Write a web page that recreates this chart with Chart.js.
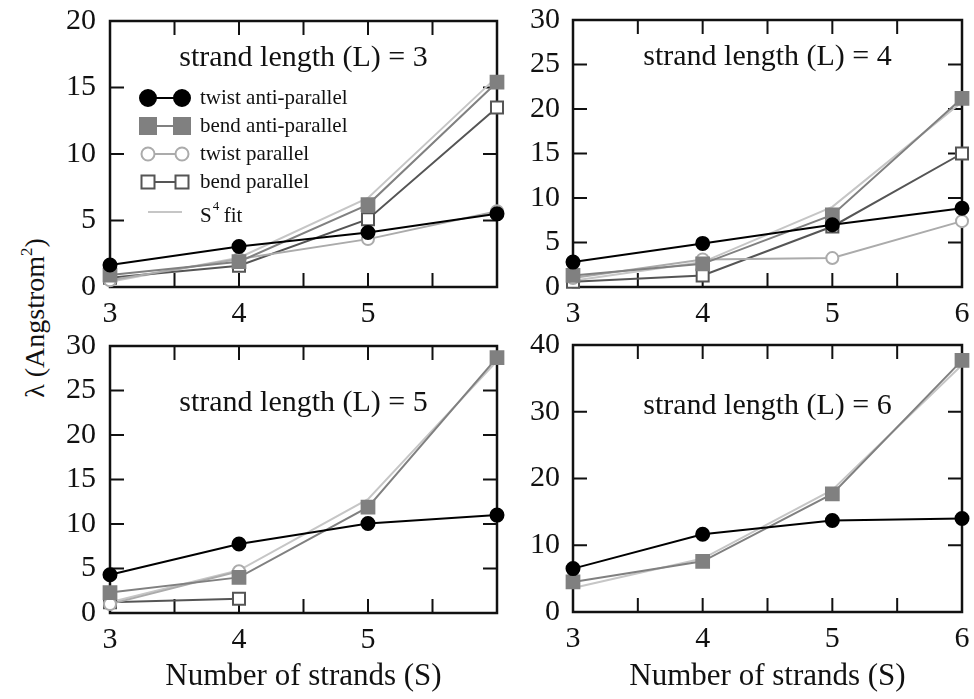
<!DOCTYPE html>
<html><head><meta charset="utf-8">
<script src="https://cdn.jsdelivr.net/npm/chart.js@4.4.1/dist/chart.umd.min.js"></script>
<style>
html,body{margin:0;padding:0;background:#fff;width:974px;height:699px;overflow:hidden;position:relative;}
canvas{position:absolute;}
#ytitle{position:absolute;left:35px;top:318px;transform:translate(-50%,-50%) rotate(-90deg);font:28px "Liberation Serif","Times New Roman",serif;white-space:nowrap;color:#111;}
#ytitle sup{font-size:0.6em;vertical-align:0.7em;line-height:0;}
</style></head><body>
<div id="ytitle">λ (Angstrom<sup>2</sup>)</div>
<canvas id="c1" width="480" height="325" style="left:40px;top:0px"></canvas>
<canvas id="c2" width="464" height="325" style="left:510px;top:0px"></canvas>
<canvas id="c3" width="480" height="374" style="left:40px;top:325px"></canvas>
<canvas id="c4" width="464" height="374" style="left:510px;top:325px"></canvas>
<script>
// ---------- data ----------
const strands = [3, 4, 5, 6];
const xTickMarks = [3, 3.5, 4, 4.5, 5, 5.5, 6];
const seriesNames = ['twist anti-parallel', 'bend anti-parallel', 'twist parallel', 'bend parallel', 'S4 fit'];
const panelTitles = ['strand length (L) = 3', 'strand length (L) = 4', 'strand length (L) = 5', 'strand length (L) = 6'];
const yAxisMax = [20, 30, 30, 40];
const yAxisStep = [5, 5, 5, 10];
const xAxisTitle = 'Number of strands (S)';

// L = 3
const twistAnti_L3 = [1.65, 3.05, 4.1, 5.5];
const bendAnti_L3  = [0.9, 1.9, 6.2, 15.4];
const twistPar_L3  = [0.5, 2.1, 3.6, 5.7];
const bendPar_L3   = [0.7, 1.6, 5.1, 13.5];
const fit_L3       = [0.4, 2.2, 6.7, 15.8];
// L = 4
const twistAnti_L4 = [2.8, 4.9, 7.0, 8.85];
const bendAnti_L4  = [1.3, 2.6, 8.1, 21.2];
const twistPar_L4  = [1.0, 3.1, 3.25, 7.4];
const bendPar_L4   = [0.6, 1.3, 6.8, 15.0];
const fit_L4       = [0.7, 2.8, 9.0, 20.8];
// L = 5
const twistAnti_L5 = [4.3, 7.75, 10.05, 11.0];
const bendAnti_L5  = [2.3, 4.0, 11.9, 28.7];
const twistPar_L5  = [1.0, 4.7, null, null];
const bendPar_L5   = [1.2, 1.6, null, null];
const fit_L5       = [1.2, 4.8, 12.8, 28.3];
// L = 6
const twistAnti_L6 = [6.5, 11.65, 13.7, 14.0];
const bendAnti_L6  = [4.5, 7.6, 17.7, 37.7];
const twistPar_L6  = [null, null, null, null];
const bendPar_L6   = [null, null, null, null];
const fit_L6       = [3.6, 8.0, 18.3, 37.0];

// ---------- styles ----------
const FONT = '"Liberation Serif", "Times New Roman", serif';
const styles = [
  {color: '#000000', fill: '#000000', pointStyle: 'circle', radius: 6.5, width: 2, lr: 8},
  {color: '#808080', fill: '#808080', pointStyle: 'rect', radius: 9, width: 2, lr: 8},
  {color: '#ababab', fill: '#ffffff', pointStyle: 'circle', radius: 6, width: 2, lr: 6.5},
  {color: '#555555', fill: '#ffffff', pointStyle: 'rect', radius: 8.5, width: 2, lr: 6.5},
  {color: '#c6c6c6', fill: '#c6c6c6', pointStyle: false, radius: 0, width: 2}
];

function legendMarker(ctx, st, x, y, r) {
  ctx.beginPath();
  if (st.pointStyle === 'circle') ctx.arc(x, y, r, 0, Math.PI * 2);
  else ctx.rect(x - r, y - r, 2 * r, 2 * r);
  ctx.fillStyle = st.fill; ctx.fill();
  ctx.lineWidth = 2; ctx.strokeStyle = st.color; ctx.stroke();
}

const panelDecor = {
  id: 'panelDecor',
  beforeDatasetsDraw(chart, args, o) {
    const {ctx, chartArea: a, scales: {x, y}} = chart;
    ctx.save();
    ctx.strokeStyle = '#111';
    ctx.lineWidth = 2;
    ctx.beginPath();
    o.xMarks.forEach(v => {
      const px = x.getPixelForValue(v);
      if (px <= a.left + 1 || px >= a.right - 1) return;
      ctx.moveTo(px, a.bottom); ctx.lineTo(px, a.bottom - o.tick);
      ctx.moveTo(px, a.top); ctx.lineTo(px, a.top + o.tick);
    });
    y.ticks.forEach(t => {
      const py = y.getPixelForValue(t.value);
      if (py >= a.bottom - 1 || py <= a.top + 1) return;
      ctx.moveTo(a.left, py); ctx.lineTo(a.left + o.tick, py);
      ctx.moveTo(a.right, py); ctx.lineTo(a.right - o.tick, py);
    });
    ctx.stroke();
    ctx.lineWidth = 2.5;
    ctx.strokeRect(a.left, a.top, a.right - a.left, a.bottom - a.top);
    ctx.fillStyle = '#111';
    ctx.font = '30px ' + FONT;
    ctx.textAlign = 'center'; ctx.textBaseline = 'middle';
    ctx.fillText(o.title, (a.left + a.right) / 2, o.titleY);
    ctx.restore();
  },
  afterDatasetsDraw(chart, args, o) {
    if (!o.legend) return;
    const ctx = chart.ctx;
    const L = o.legend;
    ctx.save();
    seriesNames.forEach((name, i) => {
      const st = styles[i];
      const yy = L.ys[i];
      ctx.beginPath();
      ctx.moveTo(L.x1, yy); ctx.lineTo(L.x2, yy);
      ctx.lineWidth = 2; ctx.strokeStyle = st.color; ctx.stroke();
      if (st.pointStyle) { legendMarker(ctx, st, L.x1, yy, st.lr); legendMarker(ctx, st, L.x2, yy, st.lr); }
      ctx.fillStyle = '#111';
      ctx.textAlign = 'left'; ctx.textBaseline = 'middle';
      ctx.font = '21px ' + FONT;
      if (i === 4) {
        ctx.fillText('S', L.tx, yy + 4);
        const w = ctx.measureText('S').width;
        ctx.font = '13px ' + FONT;
        ctx.fillText('4', L.tx + w + 1, yy - 5);
        ctx.font = '21px ' + FONT;
        ctx.fillText('fit', L.tx + w + 12, yy + 4);
      } else {
        ctx.fillText(name, L.tx, yy);
      }
    });
    ctx.restore();
  }
};

function makePanel(id, idx, series, geo) {
  const datasets = series.map((vals, i) => {
    const st = styles[i];
    return {
      label: seriesNames[i],
      data: vals.map((v, k) => ({x: strands[k], y: v})),
      borderColor: st.color,
      backgroundColor: st.fill,
      borderWidth: st.width,
      pointStyle: st.pointStyle,
      pointRadius: st.radius,
      pointBorderWidth: 2,
      pointBorderColor: st.color,
      pointBackgroundColor: st.fill,
      tension: 0,
      clip: false,
      spanGaps: false
    };
  });
  new Chart(document.getElementById(id), {
    type: 'line',
    data: {datasets},
    plugins: [panelDecor],
    options: {
      responsive: false,
      animation: false,
      devicePixelRatio: 1,
      layout: {padding: {top: geo.top, right: geo.right, left: 0, bottom: 0}},
      plugins: {
        legend: {display: false},
        tooltip: {enabled: false},
        panelDecor: {xMarks: xTickMarks, tick: 14, title: panelTitles[idx], titleY: geo.titleY, legend: geo.legend || null}
      },
      scales: {
        x: {
          type: 'linear', min: 3, max: 6,
          grid: {display: false}, border: {display: false},
          ticks: {stepSize: 1, padding: 4, color: '#111', font: {family: FONT, size: 30, lineHeight: 1.0},
                  callback: v => (geo.hide6 && v === 6) ? '' : String(v)},
          title: geo.xTitle ? {display: true, text: xAxisTitle, color: '#111', font: {family: FONT, size: 31}, padding: {top: 0, bottom: 4}} : {display: false},
          afterFit: s => { s.height = geo.xh; }
        },
        y: {
          min: 0, max: yAxisMax[idx],
          grid: {display: false}, border: {display: false},
          ticks: {stepSize: yAxisStep[idx], padding: geo.ypad, color: '#111', font: {family: FONT, size: 30, lineHeight: 1.0}},
          afterFit: s => { s.width = geo.yw; }
        }
      }
    }
  });
}

makePanel('c1', 0, [twistAnti_L3, bendAnti_L3, twistPar_L3, bendPar_L3, fit_L3],
  {top: 16, right: 23, yw: 70, xh: 38, ypad: 6, titleY: 58, hide6: true,
   legend: {x1: 108, x2: 142, tx: 160, ys: [98, 126, 154, 182, 212]}});
makePanel('c2', 1, [twistAnti_L4, bendAnti_L4, twistPar_L4, bendPar_L4, fit_L4],
  {top: 15, right: 12, yw: 63, xh: 38, ypad: 5, titleY: 57, hide6: false});
makePanel('c3', 2, [twistAnti_L5, bendAnti_L5, twistPar_L5, bendPar_L5, fit_L5],
  {top: 16, right: 23, yw: 70, xh: 86, ypad: 6, titleY: 78, hide6: true, xTitle: true});
makePanel('c4', 3, [twistAnti_L6, bendAnti_L6, twistPar_L6, bendPar_L6, fit_L6],
  {top: 17, right: 12, yw: 63, xh: 87, ypad: 5, titleY: 81, hide6: false, xTitle: true});
</script>
</body></html>
